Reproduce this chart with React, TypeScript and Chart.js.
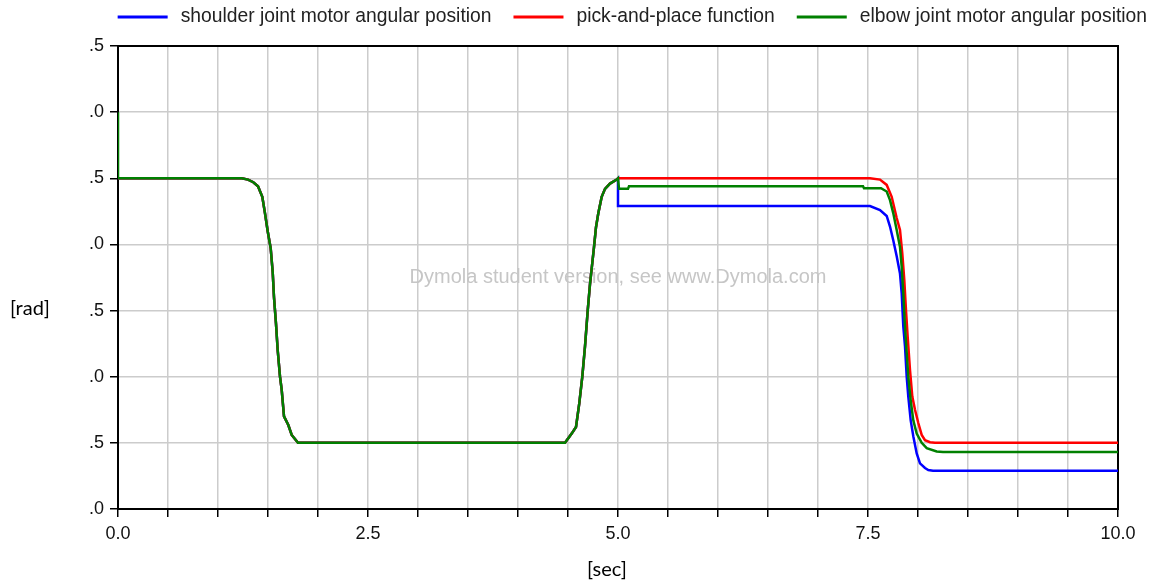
import React, { useEffect, useRef } from 'react';
import { Chart, registerables } from 'chart.js';

Chart.register(...registerables);

const seriesNames = [
  'shoulder joint motor angular position',
  'pick-and-place function',
  'elbow joint motor angular position',
];
const seriesColors = ['#0000ff', '#ff0000', '#008000'];

const xTickLabeled = [0, 2.5, 5, 7.5, 10];
const yTickLabels = ['.0', '.5', '.0', '.5', '.0', '.5', '.0', '.5'];
const xTitle = '[sec]';
const yTitle = '[rad]';
const watermarkText = 'Dymola student version, see www.Dymola.com';

// Shared trajectory 0 – 5 s (all three curves coincide)
const commonTime = [0, 1.237, 1.3, 1.353, 1.4, 1.443, 1.47, 1.497, 1.527, 1.547, 1.56, 1.58, 1.597, 1.62, 1.637, 1.66, 1.703, 1.737, 1.8, 4.47, 4.537, 4.58, 4.613, 4.643, 4.67, 4.697, 4.72, 4.743, 4.76, 4.78, 4.803, 4.837, 4.87, 4.92, 4.987, 5.0];
const commonValue = [2.5, 2.5, 2.49, 2.47, 2.44, 2.36, 2.235, 2.1, 1.97, 1.79, 1.6, 1.4, 1.2, 1.0, 0.9, 0.7, 0.635, 0.56, 0.5, 0.5, 0.57, 0.62, 0.8, 1.0, 1.23, 1.5, 1.7, 1.86, 1.98, 2.13, 2.235, 2.36, 2.42, 2.46, 2.49, 2.5];

// elbow starts at 3.0
const elbowStartTime = [0];
const elbowStartValue = [3.0];

// Tails after 5 s
const shoulderTailTime = [5.0, 7.52, 7.62, 7.687, 7.72, 7.753, 7.787, 7.82, 7.837, 7.853, 7.87, 7.887, 7.903, 7.927, 7.953, 7.987, 8.02, 8.07, 8.103, 8.15, 10];
const shoulderTailValue = [2.29, 2.29, 2.26, 2.215, 2.135, 2.03, 1.91, 1.78, 1.63, 1.38, 1.23, 1.0, 0.85, 0.67, 0.55, 0.42, 0.345, 0.31, 0.295, 0.29, 0.29];

const pickTailTime = [7.52, 7.62, 7.687, 7.737, 7.787, 7.82, 7.843, 7.863, 7.88, 7.897, 7.92, 7.943, 7.97, 8.003, 8.037, 8.07, 8.12, 8.17, 10];
const pickTailValue = [2.5, 2.49, 2.45, 2.36, 2.2, 2.11, 1.93, 1.73, 1.5, 1.3, 1.05, 0.85, 0.75, 0.65, 0.56, 0.52, 0.505, 0.5, 0.5];

const elbowTailTime = [5.01, 5.1, 5.11, 7.45, 7.46, 7.63, 7.687, 7.72, 7.753, 7.787, 7.82, 7.837, 7.853, 7.87, 7.887, 7.903, 7.927, 7.953, 7.987, 8.037, 8.087, 8.187, 8.25, 10];
const elbowTailValue = [2.42, 2.42, 2.44, 2.44, 2.425, 2.425, 2.4, 2.335, 2.235, 2.11, 1.98, 1.83, 1.63, 1.38, 1.18, 1.0, 0.82, 0.67, 0.57, 0.5, 0.46, 0.435, 0.43, 0.43];

const toPoints = (t: number[], v: number[]) => t.map((x, i) => ({ x, y: v[i] }));

const shoulderData = [...toPoints(commonTime, commonValue), ...toPoints(shoulderTailTime, shoulderTailValue)];
const pickData = [...toPoints(commonTime, commonValue), ...toPoints(pickTailTime, pickTailValue)];
const elbowData = [
  ...toPoints(elbowStartTime, elbowStartValue),
  ...toPoints(commonTime, commonValue),
  ...toPoints(elbowTailTime, elbowTailValue),
];

const overlayPlugin = {
  id: 'overlay',
  beforeDatasetsDraw(chart: any) {
    const { ctx, chartArea: a } = chart;
    ctx.save();
    ctx.font = '20px "Liberation Sans", Arial, sans-serif';
    ctx.fillStyle = '#c6c6c6';
    ctx.textAlign = 'center';
    ctx.textBaseline = 'middle';
    ctx.fillText(watermarkText, (a.left + a.right) / 2, (a.top + a.bottom) / 2);
    ctx.strokeStyle = '#000';
    ctx.lineWidth = 2;
    ctx.strokeRect(a.left, a.top, a.right - a.left, a.bottom - a.top);
    ctx.restore();
  },
  afterDraw(chart: any) {
    const { ctx, chartArea: a, width } = chart;
    ctx.save();
    // legend
    ctx.font = '19.3px "Liberation Sans", Arial, sans-serif';
    ctx.textBaseline = 'middle';
    ctx.textAlign = 'left';
    const lineLen = 50;
    const gapText = 13;
    const gapItem = 22;
    const widths = seriesNames.map((n) => ctx.measureText(n).width);
    const total = widths.reduce((s, w) => s + lineLen + gapText + w, 0) + gapItem * (seriesNames.length - 1);
    let x = width - 2 - total;
    const yc = 17;
    seriesNames.forEach((n, i) => {
      ctx.fillStyle = seriesColors[i];
      ctx.fillRect(x, yc - 1.5, lineLen, 3);
      x += lineLen + gapText;
      ctx.fillStyle = '#222';
      ctx.fillText(n, x, yc);
      x += widths[i] + gapItem;
    });
    // axis titles
    ctx.font = '20px Lato, "Open Sans", sans-serif';
    ctx.fillStyle = '#000';
    ctx.textAlign = 'left';
    ctx.fillText(yTitle, 10, (a.top + a.bottom) / 2 + 31);
    ctx.textAlign = 'center';
    ctx.fillText(xTitle, (a.left + a.right) / 2 - 11, a.bottom + 61);
    ctx.restore();
  },
};

export default function App() {
  const canvasRef = useRef<HTMLCanvasElement | null>(null);

  useEffect(() => {
    if (!canvasRef.current) return;
    const lineDs = (label: string, data: any[], color: string, order: number) => ({
      label,
      data,
      borderColor: color,
      backgroundColor: color,
      borderWidth: 2.5,
      pointRadius: 0,
      pointHoverRadius: 0,
      tension: 0,
      fill: false,
      order,
    });
    const chart = new Chart(canvasRef.current, {
      type: 'line',
      data: {
        datasets: [
          lineDs(seriesNames[0], shoulderData, seriesColors[0], 2),
          lineDs(seriesNames[1], pickData, seriesColors[1], 1),
          lineDs(seriesNames[2], elbowData, seriesColors[2], 0),
        ],
      },
      options: {
        animation: false,
        responsive: true,
        maintainAspectRatio: false,
        layout: { padding: { left: 78, right: 31, top: 46, bottom: 36 } },
        plugins: {
          legend: { display: false },
          tooltip: { enabled: false },
        },
        scales: {
          x: {
            type: 'linear',
            min: 0,
            max: 10,
            afterFit: (s: any) => {
              s.height = 40;
            },
            border: { display: false },
            grid: {
              color: '#cccccc',
              lineWidth: 1.5,
              tickColor: '#000',
              tickWidth: 1.5,
              tickLength: 8,
            },
            ticks: {
              stepSize: 0.5,
              autoSkip: false,
              maxRotation: 0,
              padding: 6,
              color: '#111',
              font: { family: '"Liberation Sans", Arial, sans-serif', size: 18 },
              callback: (v: any) => {
                const n = Number(v);
                return xTickLabeled.some((t) => Math.abs(t - n) < 1e-6) ? n.toFixed(1) : '';
              },
            },
          },
          y: {
            min: 0,
            max: 3.5,
            afterFit: (s: any) => {
              s.width = 40;
            },
            border: { display: false },
            grid: {
              color: '#cccccc',
              lineWidth: 1.5,
              tickColor: '#000',
              tickWidth: 1.5,
              tickLength: 8,
            },
            ticks: {
              stepSize: 0.5,
              autoSkip: false,
              padding: 6,
              color: '#111',
              font: { family: '"Liberation Sans", Arial, sans-serif', size: 18 },
              callback: (v: any) => {
                const idx = Math.round(Number(v) / 0.5);
                return yTickLabels[idx] ?? '';
              },
            },
          },
        },
      },
      plugins: [overlayPlugin],
    } as any);
    return () => chart.destroy();
  }, []);

  return (
    <div style={{ position: 'fixed', left: 0, top: 0, width: 1149, height: 585, background: '#fff' }}>
      <canvas ref={canvasRef} />
    </div>
  );
}
